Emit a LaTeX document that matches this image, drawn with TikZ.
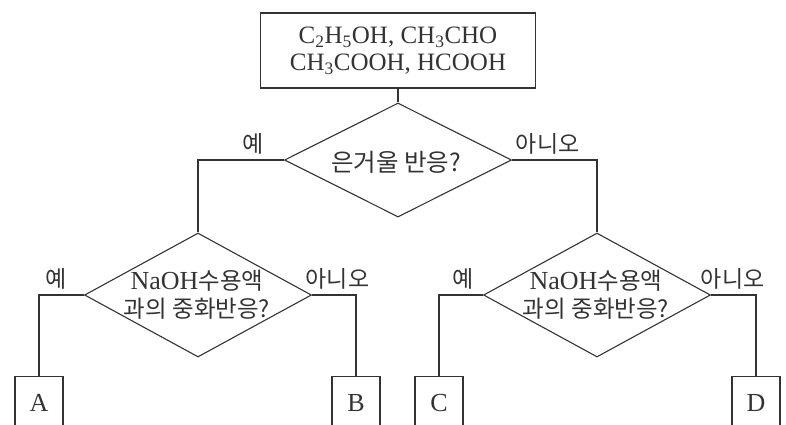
\documentclass[tikz,border=0pt]{standalone}
\usepackage{fontspec}
\setmainfont{Liberation Serif}
\newfontfamily\kr{Noto Sans CJK KR}
\usetikzlibrary{shapes.geometric}
\definecolor{ink}{HTML}{333333}
\begin{document}
\begin{tikzpicture}[x=1pt,y=-1pt,line width=1.1pt,draw=ink,text=ink,
  startbox/.style={draw,inner sep=0,minimum width=275pt,minimum height=75pt,align=center,font=\fontsize{25}{27}\selectfont},
  dia/.style={draw,diamond,inner sep=0,minimum width=227pt},
  dtext/.style={align=center,inner sep=0,font=\fontsize{23.5}{28}\selectfont},
  endbox/.style={draw,inner sep=0,minimum width=48pt,minimum height=52pt,anchor=north,font=\fontsize{26}{28}\selectfont},
  lbl/.style={above=5pt,inner sep=0,font=\kr\fontsize{23}{24}\selectfont}]
\useasboundingbox (0,0) rectangle (786,424);
\clip (0,0) rectangle (786,424);
\node[startbox] (top) at (398,50.5) {C\textsubscript{2}H\textsubscript{5}OH, CH\textsubscript{3}CHO\\CH\textsubscript{3}COOH, HCOOH};
\node[dia,minimum height=114pt] (d1) at (398,160) {};
\node[dtext,font=\fontsize{24.5}{28}\selectfont] (t1) at (396,162) {\kr 은거울 반응?};
\node[dia,minimum height=124pt] (d2) at (198,295) {};
\node[dtext] (t2) at (197,295) {{\fontsize{26}{28}\selectfont NaOH}{\kr 수용액}\\{\kr 과의 중화반응?}};
\node[dia,minimum height=124pt] (d3) at (597,295) {};
\node[dtext] (t3) at (596,295) {{\fontsize{26}{28}\selectfont NaOH}{\kr 수용액}\\{\kr 과의 중화반응?}};
\node[endbox] (A) at (39,376) {A};
\node[endbox] (B) at (356,376) {B};
\node[endbox] (C) at (439,376) {C};
\node[endbox] (D) at (756,376) {D};
\draw (top) -- (d1);
\draw (d1.west) -| node[lbl,pos=0.18] (y1) {예} (d2.north);
\draw (d1.east) -| node[lbl,pos=0.21] (n1) {아니오} (d3.north);
\draw (d2.west) -| node[lbl,pos=0.31] (y2) {예} (A.north);
\draw (d2.east) -| node[lbl,pos=0.29] (n2) {아니오} (B.north);
\draw (d3.west) -| node[lbl,pos=0.23] (y3) {예} (C.north);
\draw (d3.east) -| node[lbl,pos=0.24] (n3) {아니오} (D.north);
\end{tikzpicture}
\end{document}
